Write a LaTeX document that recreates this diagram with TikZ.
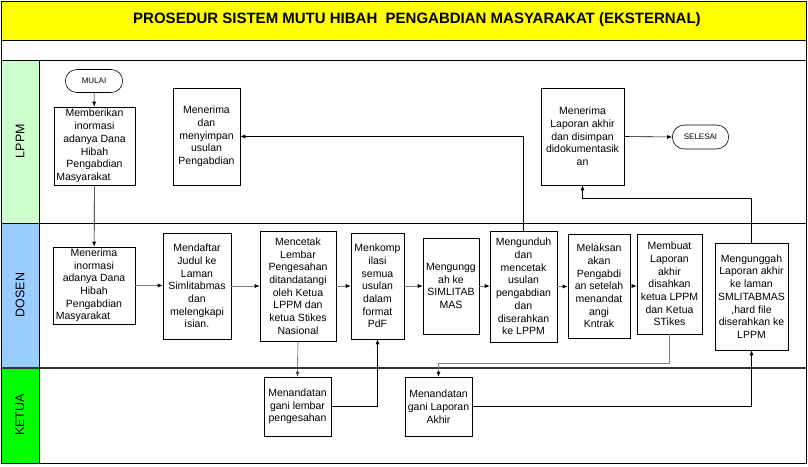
\documentclass[tikz,border=0pt]{standalone}
\usepackage{fontspec}
\setmainfont{Liberation Sans}
\usetikzlibrary{arrows.meta, shapes.misc}

\definecolor{judulkuning}{HTML}{FFFF00}
\definecolor{lajurlppm}{HTML}{CCFFCC}
\definecolor{lajurdosen}{HTML}{99CCFF}
\definecolor{lajurketua}{HTML}{00FF00}
\definecolor{garisabu}{HTML}{808080}

\begin{document}
\begin{tikzpicture}[
            x=1pt, y=-1pt,
            >={Latex[length=5pt,width=4pt]},
            semithick
        ]
        \tikzstyle{proses}=[draw=black, fill=white, align=center, inner sep=1pt, font=\fontsize{10.5}{12.7}\selectfont]
        \tikzstyle{terminal}=[rounded rectangle, draw=black, fill=white, font=\fontsize{8}{10}\selectfont]
        \tikzstyle{lajur}=[rotate=90, font=\fontsize{12.5}{14}\selectfont]
        \tikzstyle{alur}=[->, draw=black]
        \tikzstyle{alurabu}=[-{Latex[length=5pt,width=4pt,black]}, draw=garisabu]

        \useasboundingbox (0,0) rectangle (808,466);

        % kerangka dan lajur
        \fill[judulkuning] (1,1) rectangle (806,40);
        \fill[lajurlppm] (1,60) rectangle (39,223);
        \fill[lajurdosen] (1,223) rectangle (39,368);
        \fill[lajurketua] (1,368) rectangle (39,463);
        \draw[thick] (1,1) rectangle (806,463);
        \draw[thick] (1,40) -- (806,40);
        \draw[thick] (1,60) -- (806,60);
        \draw[thick] (1,223) -- (806,223);
        \draw[very thick, black!80] (1,368) -- (806,368);
        \draw[thick] (39,60) -- (39,463);

        \node[font=\bfseries\fontsize{15}{17}\selectfont] (judul) at (417,20) {PROSEDUR SISTEM MUTU HIBAH\ \ PENGABDIAN MASYARAKAT (EKSTERNAL)};
        \node[lajur] (lppm) at (20,141) {LPPM};
        \node[lajur] (dosen) at (20,295) {DOSEN};
        \node[lajur] (ketua) at (20,415) {KETUA};

        % LPPM
        \node[terminal, minimum width=64, minimum height=23] (mulai) at (94,81) {MULAI};
        \node[proses, minimum width=81, minimum height=78] (memberi) at (94.5,146) {Memberikan\\inormasi\\adanya Dana\\Hibah\\Pengabdian\\Masyarakat\hspace*{22pt}};
        \node[proses, minimum width=67, minimum height=97] (simpan) at (206.5,136.5) {Menerima\\dan\\menyimpan\\usulan\\Pengabdian};
        \node[proses, minimum width=83, minimum height=97] (lapakhir) at (582.5,136.5) {Menerima\\Laporan akhir\\dan disimpan\\didokumentasik\\an};
        \node[terminal, minimum width=63, minimum height=24] (selesai) at (700.5,137) {SELESAI};

        % DOSEN
        \node[proses, minimum width=82, minimum height=77] (terima) at (94,285.5) {Menerima\\inormasi\\adanya Dana\\Hibah\\Pengabdian\\Masyarakat\hspace*{22pt}};
        \node[proses, minimum width=68, minimum height=106] (daftar) at (197,286) {Mendaftar\\Judul ke\\Laman\\Simlitabmas\\dan\\melengkapi\\isian.};
        \node[proses, minimum width=76, minimum height=110] (cetak) at (298,286) {Mencetak\\Lembar\\Pengesahan\\ditandatangi\\oleh Ketua\\LPPM dan\\ketua Stikes\\Nasional};
        \node[proses, minimum width=53, minimum height=106] (kompil) at (377.5,286) {Menkomp\\ilasi\\semua\\usulan\\dalam\\format\\PdF};
        \node[proses, minimum width=56, minimum height=96] (unggah) at (451,286) {Mengungg\\ah ke\\SIMLITAB\\MAS};
        \node[proses, minimum width=67, minimum height=111] (unduh) at (523.5,286.5) {Mengunduh\\dan\\mencetak\\usulan\\pengabdian\\dan\\diserahkan\\ke LPPM};
        \node[proses, minimum width=62, minimum height=104] (laksana) at (599,286) {Melaksan\\akan\\Pengabdi\\an setelah\\menandat\\angi\\Kntrak};
        \node[proses, minimum width=65, minimum height=100] (buat) at (669.5,284) {Membuat\\Laporan\\akhir\\disahkan\\ketua LPPM\\dan Ketua\\STikes};
        \node[proses, minimum width=73, minimum height=107] (unggahlap) at (751.5,296.5) {Mengunggah\\Laporan akhir\\ke laman\\SMLITABMAS\\,hard file\\diserahkan ke\\LPPM};

        % KETUA
        \node[proses, minimum width=67, minimum height=59] (lembar) at (297.5,406.5) {Menandatan\\gani lembar\\pengesahan};
        \node[proses, minimum width=67, minimum height=59] (ttdlap) at (438.5,406.5) {Menandatan\\gani Laporan\\Akhir};

        % alur
        \draw[alur] (mulai) -- (memberi);
        \draw[alur] (memberi) -- (terima);
        \draw[alurabu] (terima.east) -- (terima.east -| daftar.west);
        \draw[alurabu] (daftar.east) -- (daftar.east -| cetak.west);
        \draw[alurabu] (cetak.east) -- (cetak.east -| kompil.west);
        \draw[alurabu] (kompil.east) -- (kompil.east -| unggah.west);
        \draw[alurabu] (unggah.east) -- (unggah.east -| unduh.west);
        \draw[alurabu] (unduh.east) -- (unduh.east -| laksana.west);
        \draw[alurabu] (laksana.east) -- (laksana.east -| buat.west);
        \draw[alur] (unduh.north) |- (simpan.east);
        \draw[alur, draw=black!70] (cetak.south) -- (lembar.north);
        \draw[alur] (lembar.east) -| (kompil.south);
        \draw[alurabu] (buat.south) -- ++(0,29) -| (ttdlap.north);
        \draw[alur] (ttdlap.east) -| (unggahlap.south);
        \draw[alur] (unggahlap.north) -- ++(0,-44) -| (lapakhir.south);
        \draw[alur] (lapakhir.east) -- (selesai.west);
    \end{tikzpicture}
\end{document}
